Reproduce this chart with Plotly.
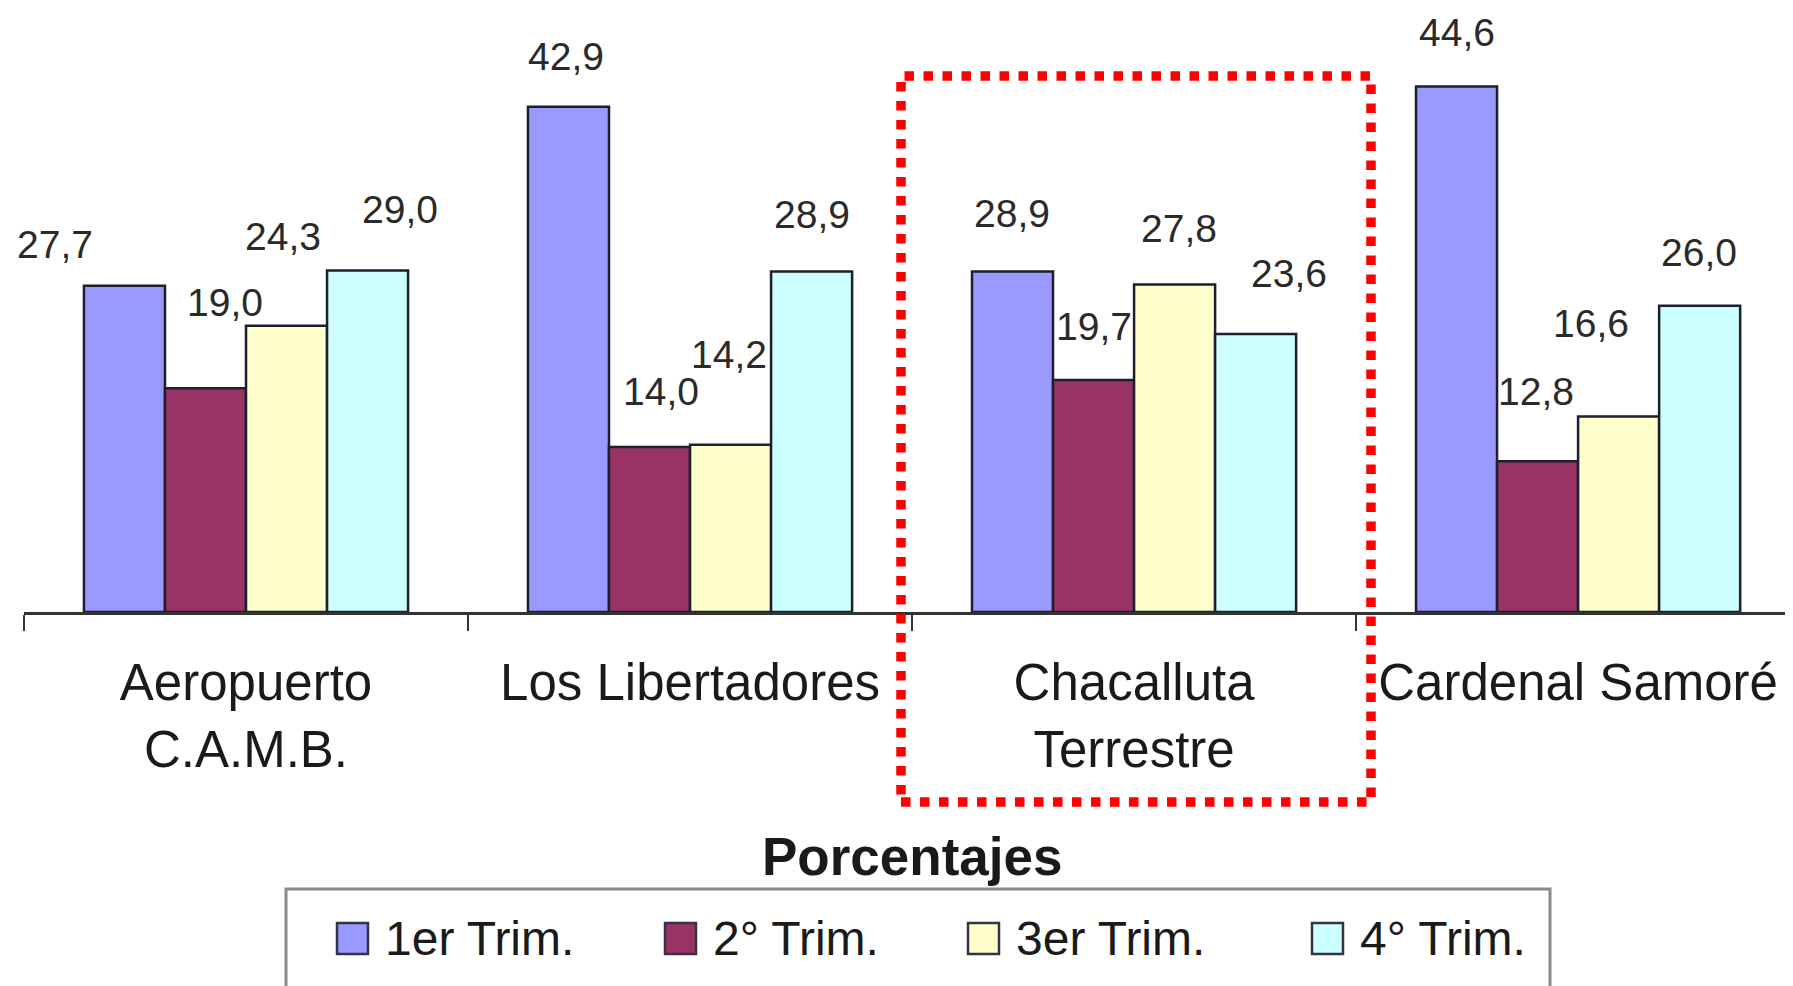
import plotly.graph_objects as go

# ---------------- data ----------------
categories = ["Aeropuerto<br>C.A.M.B.", "Los Libertadores", "Chacalluta<br>Terrestre", "Cardenal Samoré"]
series_names = ["1er Trim.", "2° Trim.", "3er Trim.", "4° Trim."]
trim1 = [27.7, 42.9, 28.9, 44.6]
trim2 = [19.0, 14.0, 19.7, 12.8]
trim3 = [24.3, 14.2, 27.8, 16.6]
trim4 = [29.0, 28.9, 23.6, 26.0]
series_values = [trim1, trim2, trim3, trim4]
legend_title = "Porcentajes"

# ---------------- style ----------------
colors = ["#9999FF", "#993366", "#FFFFCC", "#CCFFFF"]
outline = "#1e1e2e"
FONT = "Liberation Sans, Arial, sans-serif"
BODY = 8                      # default page body margin
W, H = 1793 - BODY, 986 - BODY
ML, MR, MT = 24 - BODY, 0, 0
BASE_PAGE = 612               # baseline position on the page
plot_h = BASE_PAGE - BODY - MT
MB = H - MT - plot_h
XRANGE = [-0.5, 3.484]
YRANGE = [0, plot_h / 11.78]
BARGAP = 0.27

# pixel nudges of the value labels (per category, per quarter): right, up
lab_dx = [[-69, 20, -4, 32], [-2, 11, -2, 0], [-1, 0, 4, 33], [0, -2, -28, -1]]
lab_up = [[37, 82, 85, 57], [46, 52, 86, 53], [54, 49, 52, 56], [50, 66, 89, 49]]

plot_w = W - ML - MR
cat_px = plot_w / (XRANGE[1] - XRANGE[0])
bar_px = cat_px * (1 - BARGAP) / len(series_names)


def px_x(px):
    """page x pixel -> paper x"""
    return (px - BODY - ML) / plot_w


def px_y(py):
    """page y pixel -> paper y"""
    return (MT + plot_h - (py - BODY)) / plot_h


fig = go.Figure()
for name, vals, col in zip(series_names, series_values, colors):
    fig.add_trace(go.Bar(
        x=categories, y=vals, name=name,
        marker=dict(color=col, line=dict(color=outline, width=2.5)),
        showlegend=False, hoverinfo="x+y+name",
    ))

annotations = []
for ci, cat in enumerate(categories):
    for si, vals in enumerate(series_values):
        v = vals[ci]
        annotations.append(dict(
            x=cat, y=v, xref="x", yref="y",
            text=f"{v:.1f}".replace(".", ","),
            showarrow=False, xanchor="center", yanchor="middle",
            xshift=(si - 1.5) * bar_px + lab_dx[ci][si],
            yshift=lab_up[ci][si] + 4,
            font=dict(family=FONT, size=39, color="#2a2a2a"),
        ))

# legend title
annotations.append(dict(
    x=px_x(912), y=px_y(856), xref="paper", yref="paper",
    text=f"<b>{legend_title}</b>", showarrow=False,
    xanchor="center", yanchor="middle",
    font=dict(family=FONT, size=53, color="#1a1a1a"),
))

shapes = []
# legend frame (bottom is cut by the picture edge)
shapes.append(dict(type="rect", xref="paper", yref="paper",
                   x0=px_x(286), x1=px_x(1550), y0=px_y(1010), y1=px_y(889),
                   line=dict(color="#8a8a8a", width=3), fillcolor="rgba(0,0,0,0)"))
leg_x = [337, 665, 968, 1312]
for lx, name, col in zip(leg_x, series_names, colors):
    shapes.append(dict(type="rect", xref="paper", yref="paper",
                       x0=px_x(lx), x1=px_x(lx + 31), y0=px_y(954), y1=px_y(923),
                       line=dict(color="#333344", width=2.5), fillcolor=col))
    annotations.append(dict(
        x=px_x(lx + 46), y=px_y(938), xref="paper", yref="paper",
        text=name, showarrow=False, xanchor="left", yanchor="middle",
        font=dict(family=FONT, size=48, color="#1a1a1a"),
    ))

# red dotted highlight box
shapes.append(dict(type="rect", xref="paper", yref="paper",
                   x0=px_x(901), x1=px_x(1371), y0=px_y(802), y1=px_y(76),
                   line=dict(color="#FF0000", width=9.5, dash="dot"),
                   fillcolor="rgba(0,0,0,0)"))

fig.update_layout(
    width=W, height=H, autosize=False,
    margin=dict(l=ML, r=MR, t=MT, b=MB, pad=0),
    paper_bgcolor="white", plot_bgcolor="white",
    barmode="group", bargap=BARGAP, bargroupgap=0,
    showlegend=False,
    font=dict(family=FONT, color="#1a1a1a"),
    annotations=annotations, shapes=shapes,
    xaxis=dict(
        range=XRANGE, type="category",
        showline=True, linecolor="#333333", linewidth=3,
        ticks="outside", tickson="boundaries", ticklen=16, tickwidth=2,
        tickcolor="#333333", showgrid=False, zeroline=False,
        tickfont=dict(family=FONT, size=51, color="#1a1a1a"),
        ticklabelstandoff=24,
    ),
    yaxis=dict(range=YRANGE, visible=False, showgrid=False, zeroline=False),
)

fig.write_html("out.html")
